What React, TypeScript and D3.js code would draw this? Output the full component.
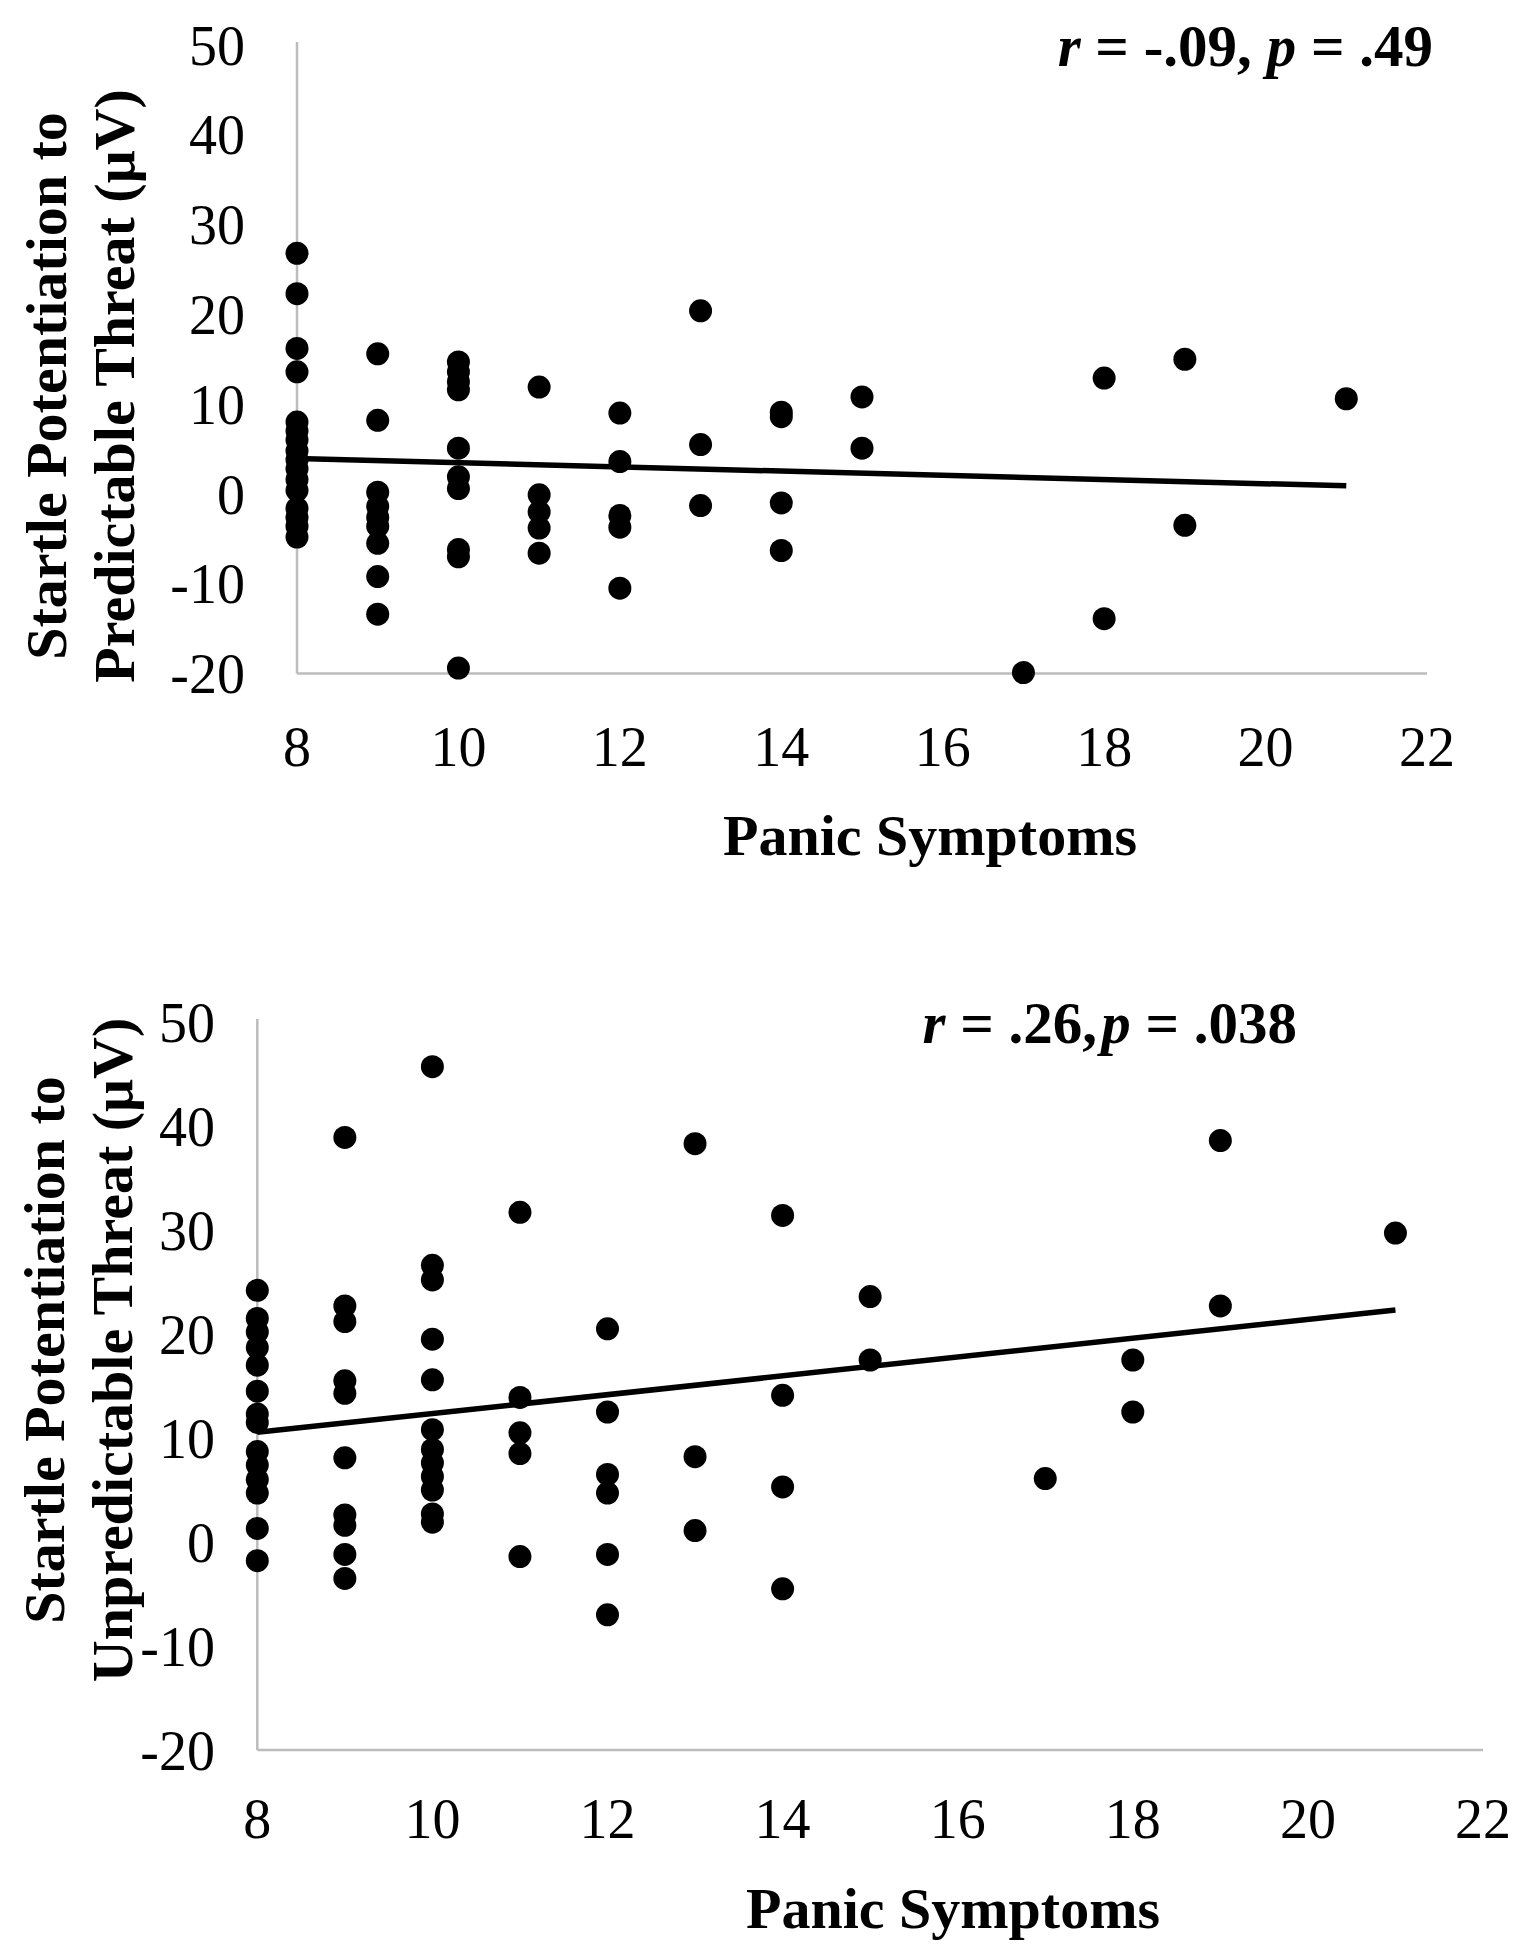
import React from "react";
import * as d3 from "d3";

// ---------- data ----------
const xTicks = [8, 10, 12, 14, 16, 18, 20, 22];
const yTicks = [-20, -10, 0, 10, 20, 30, 40, 50];
const xTitle = "Panic Symptoms";

// [panic symptoms, startle potentiation values at that score]
const predictableColumns: [number, number[]][] = [
  [8, [26.8, 22.3, 16.2, 13.6, 8.0, 7.0, 6.0, 4.8, 3.8, 2.8, 1.6, 0.4, -1.6, -2.6, -3.6, -4.8]],
  [9, [15.6, 8.2, 0.2, -1.4, -2.6, -3.6, -5.5, -9.2, -13.4]],
  [10, [14.7, 13.6, 12.5, 11.6, 5.1, 1.9, 0.6, -6.2, -7.0, -19.4]],
  [11, [11.9, -0.1, -2.0, -3.8, -6.6]],
  [12, [9.0, 3.6, -2.4, -3.7, -10.5]],
  [13, [20.4, 5.5, -1.3]],
  [14, [9.1, 8.6, -1.0, -6.3]],
  [15, [10.8, 5.1]],
  [17, [-19.9]],
  [18, [12.9, -13.9]],
  [19, [15.0, -3.5]],
  [21, [10.6]],
];

const unpredictableColumns: [number, number[]][] = [
  [8, [24.2, 21.5, 20.2, 18.7, 17.0, 14.5, 12.3, 11.5, 8.7, 7.4, 6.0, 4.7, 1.3, -1.8]],
  [9, [38.9, 22.7, 21.2, 15.5, 14.3, 8.1, 2.6, 1.6, -1.2, -3.5]],
  [10, [45.7, 26.6, 25.2, 19.5, 15.6, 10.8, 8.9, 7.6, 6.3, 5.0, 2.7, 1.9]],
  [11, [31.7, 13.9, 10.5, 8.5, -1.4]],
  [12, [20.5, 12.5, 6.5, 4.7, -1.2, -7.0]],
  [13, [38.3, 8.2, 1.1]],
  [14, [31.4, 14.1, 5.3, -4.5]],
  [15, [23.6, 17.5]],
  [17, [6.1]],
  [18, [17.5, 12.5]],
  [19, [38.6, 22.7]],
  [21, [29.7]],
];

// fitted trend line endpoints [panic, startle]
const predictableTrend: [number, number][] = [[8, 3.95], [21, 0.9]];
const unpredictableTrend: [number, number][] = [[8, 10.55], [21, 22.3]];

const predictableTitle = ["Startle Potentiation to", "Predictable Threat (\u03BCV)"];
const unpredictableTitle = ["Startle Potentiation to", "Unpredictable Threat (\u03BCV)"];

const predictableStats = { r: "-.09", p: ".49" };
const unpredictableStats = { r: ".26", p: ".038" };

// ---------- layout ----------
const FONT = "'Liberation Serif', 'Times New Roman', Times, serif";

const panels = [
  {
    columns: predictableColumns,
    trend: predictableTrend,
    title: predictableTitle,
    stats: predictableStats,
    tightComma: false,
    x0: 297, x1: 1427, yTop: 45, yBottom: 673.5,
    yLabelRight: 245, xLabelY: 746,
    xTitleX: 930, xTitleY: 855,
    yTitleCenter: 386, yTitleBase1: 66, yTitleBase2: 134,
    statEnd: 1433, statBase: 66,
  },
  {
    columns: unpredictableColumns,
    trend: unpredictableTrend,
    title: unpredictableTitle,
    stats: unpredictableStats,
    tightComma: true,
    x0: 257.3, x1: 1483, yTop: 1022, yBottom: 1750,
    yLabelRight: 215, xLabelY: 1818,
    xTitleX: 953, xTitleY: 1928,
    yTitleCenter: 1350, yTitleBase1: 64, yTitleBase2: 132,
    statEnd: 1297, statBase: 1043,
  },
];

function Panel({ cfg }: { cfg: any }) {
  const x = d3.scaleLinear().domain([8, 22]).range([cfg.x0, cfg.x1]);
  const y = d3.scaleLinear().domain([-20, 50]).range([cfg.yBottom, cfg.yTop]);
  const line = d3
    .line<[number, number]>()
    .x((d) => x(d[0]))
    .y((d) => y(d[1]));
  const points: [number, number][] = (cfg.columns as [number, number[]][]).flatMap(
    ([px, vals]) => vals.map((v) => [px, v] as [number, number])
  );
  const axisColor = "#bcbcbc";
  return (
    <g fontFamily={FONT} fill="#000">
      <line x1={x(8)} x2={x(8)} y1={y(50) - 3} y2={y(-20)} stroke={axisColor} strokeWidth={2.5} />
      <line x1={x(8)} x2={x(22)} y1={y(-20)} y2={y(-20)} stroke={axisColor} strokeWidth={2.5} />
      {yTicks.map((t) => (
        <text key={"y" + t} x={cfg.yLabelRight} y={y(t)} dy="0.35em" textAnchor="end" fontSize={56}>
          {t}
        </text>
      ))}
      {xTicks.map((t) => (
        <text key={"x" + t} x={x(t)} y={cfg.xLabelY} dy="0.35em" textAnchor="middle" fontSize={56}>
          {t}
        </text>
      ))}
      {points.map((p, i) => (
        <circle key={i} cx={x(p[0])} cy={y(p[1])} r={11.5} fill="#000" />
      ))}
      <path d={line(cfg.trend) || ""} stroke="#000" strokeWidth={5.5} fill="none" />
      <text x={cfg.xTitleX} y={cfg.xTitleY} textAnchor="middle" fontSize={58} fontWeight="bold">
        {xTitle}
      </text>
      <text
        transform={`translate(${cfg.yTitleBase1},${cfg.yTitleCenter}) rotate(-90)`}
        textAnchor="middle"
        fontSize={58}
        fontWeight="bold"
      >
        {cfg.title[0]}
      </text>
      <text
        transform={`translate(${cfg.yTitleBase2},${cfg.yTitleCenter}) rotate(-90)`}
        textAnchor="middle"
        fontSize={58}
        fontWeight="bold"
      >
        {cfg.title[1]}
      </text>
      <text x={cfg.statEnd} y={cfg.statBase} textAnchor="end" fontSize={59} fontWeight="bold">
        <tspan fontStyle="italic">r</tspan>
        <tspan>{" = " + cfg.stats.r + (cfg.tightComma ? "," : ", ")}</tspan>
        <tspan fontStyle="italic" dx={cfg.tightComma ? 4 : 0}>p</tspan>
        <tspan>{" = " + cfg.stats.p}</tspan>
      </text>
    </g>
  );
}

export default function App() {
  return (
    <svg
      width={1518}
      height={1950}
      viewBox="0 0 1518 1950"
      style={{ position: "absolute", left: 0, top: 0, background: "#fff" }}
    >
      <rect x={0} y={0} width={1518} height={1950} fill="#fff" />
      {panels.map((cfg, i) => (
        <Panel key={i} cfg={cfg} />
      ))}
    </svg>
  );
}
